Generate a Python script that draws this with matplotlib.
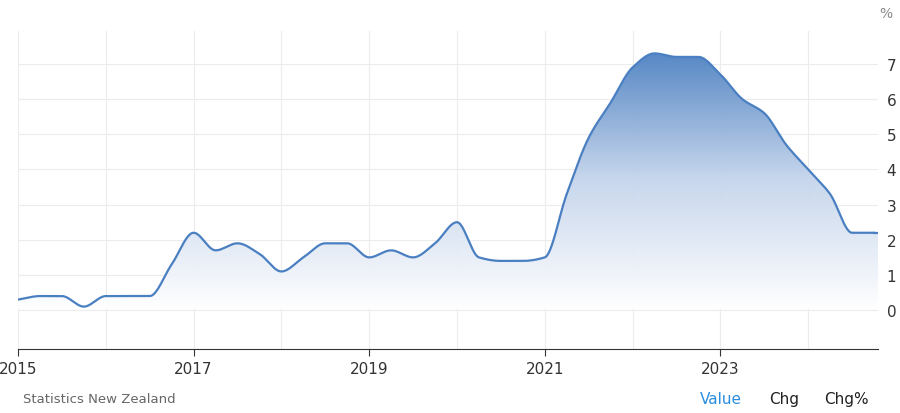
import numpy as np
import matplotlib.pyplot as plt
from matplotlib.colors import LinearSegmentedColormap
from matplotlib.patches import Polygon

# NZ annual inflation, quarterly
values = [
    0.3, 0.4, 0.4, 0.1,
    0.4, 0.4, 0.4, 1.3,
    2.2, 1.7, 1.9, 1.6,
    1.1, 1.5, 1.9, 1.9,
    1.5, 1.7, 1.5, 1.9,
    2.5, 1.5, 1.4, 1.4,
    1.5, 3.3, 4.9, 5.9,
    6.9, 7.3, 7.2, 7.2,
    6.7, 6.0, 5.6, 4.7,
    4.0, 3.3, 2.2, 2.2,
]
x_ticks = [2015, 2017, 2019, 2021, 2023]
y_ticks = [0, 1, 2, 3, 4, 5, 6, 7]

LINE = "#4a7fc1"


def pchip(x, y, xs):
    """Monotone cubic for drawing a smooth line through the points."""
    x = np.asarray(x, float)
    y = np.asarray(y, float)
    h = np.diff(x)
    d = np.diff(y) / h
    m = np.zeros_like(y)
    for i in range(1, len(y) - 1):
        if d[i - 1] * d[i] > 0:
            w1 = 2 * h[i] + h[i - 1]
            w2 = h[i] + 2 * h[i - 1]
            m[i] = (w1 + w2) / (w1 / d[i - 1] + w2 / d[i])
    m[0], m[-1] = d[0], d[-1]
    idx = np.clip(np.searchsorted(x, xs) - 1, 0, len(x) - 2)
    t = (xs - x[idx]) / h[idx]
    h00 = 2 * t**3 - 3 * t**2 + 1
    h10 = t**3 - 2 * t**2 + t
    h01 = -2 * t**3 + 3 * t**2
    h11 = t**3 - t**2
    return h00 * y[idx] + h10 * h[idx] * m[idx] + h01 * y[idx + 1] + h11 * h[idx] * m[idx + 1]


dates = 2015 + np.arange(len(values)) * 0.25
xs = np.linspace(dates[0], dates[-1], 1500)
ys = pchip(dates, values, xs)

fig = plt.figure(figsize=(9, 4.14), dpi=100)
ax = fig.add_axes([0.02, 0.155, 0.956, 0.768])
ax.set_axisbelow(True)
ax.set_xlim(2015, dates[-1] + 0.05)
ax.set_ylim(-1.1, 7.94)
xmax = dates[-1] + 0.05

# gradient fill under the line
grad = np.linspace(0, 1, 256).reshape(-1, 1)
cmap = LinearSegmentedColormap.from_list("g", ["#ffffff", "#c5d5ec", "#4a7fc1"])
im = ax.imshow(grad, extent=[2015, xmax, 0.0, 7.4], origin="lower", aspect="auto",
               cmap=cmap, zorder=1, alpha=0.95)
poly = Polygon(np.column_stack([np.r_[xs, xmax, xmax, xs[0]],
                                np.r_[ys, values[-1], 0.03, 0.03]]),
               closed=True, transform=ax.transData)
im.set_clip_path(poly)
ax.plot(xs, ys, color=LINE, lw=1.6, zorder=3)
ax.plot([dates[-1], xmax], [values[-1], values[-1]], color=LINE, lw=1.6, zorder=3)

ax.set_xticks(x_ticks)
ax.set_xticklabels([str(v) for v in x_ticks], fontsize=11, color="#333333")
ax.set_xticks(np.arange(2016, 2025, 2), minor=True)
ax.set_yticks(y_ticks)
ax.yaxis.tick_right()
ax.set_yticklabels([str(v) for v in y_ticks], fontsize=11, color="#333333")
ax.tick_params(axis="y", length=0, pad=6)
ax.tick_params(axis="x", which="major", length=5, color="#333333")
ax.tick_params(axis="x", which="minor", length=0)
ax.grid(True, which="both", color="#ececec", lw=0.8, zorder=0)
for s in ["top", "right", "left"]:
    ax.spines[s].set_visible(False)
ax.spines["bottom"].set_color("#333333")
ax.spines["bottom"].set_zorder(4)

fig.text(0.984, 0.965, "%", fontsize=10, color="#888888", ha="center", va="center")
fig.text(0.026, 0.036, "Statistics New Zealand", fontsize=9.5, color="#666666", va="center")
fig.text(0.801, 0.036, "Value", fontsize=11, color="#2a8de0", ha="center", va="center")
fig.text(0.871, 0.036, "Chg", fontsize=11, color="#222222", ha="center", va="center")
fig.text(0.94, 0.036, "Chg%", fontsize=11, color="#222222", ha="center", va="center")

fig.savefig("out.png")
